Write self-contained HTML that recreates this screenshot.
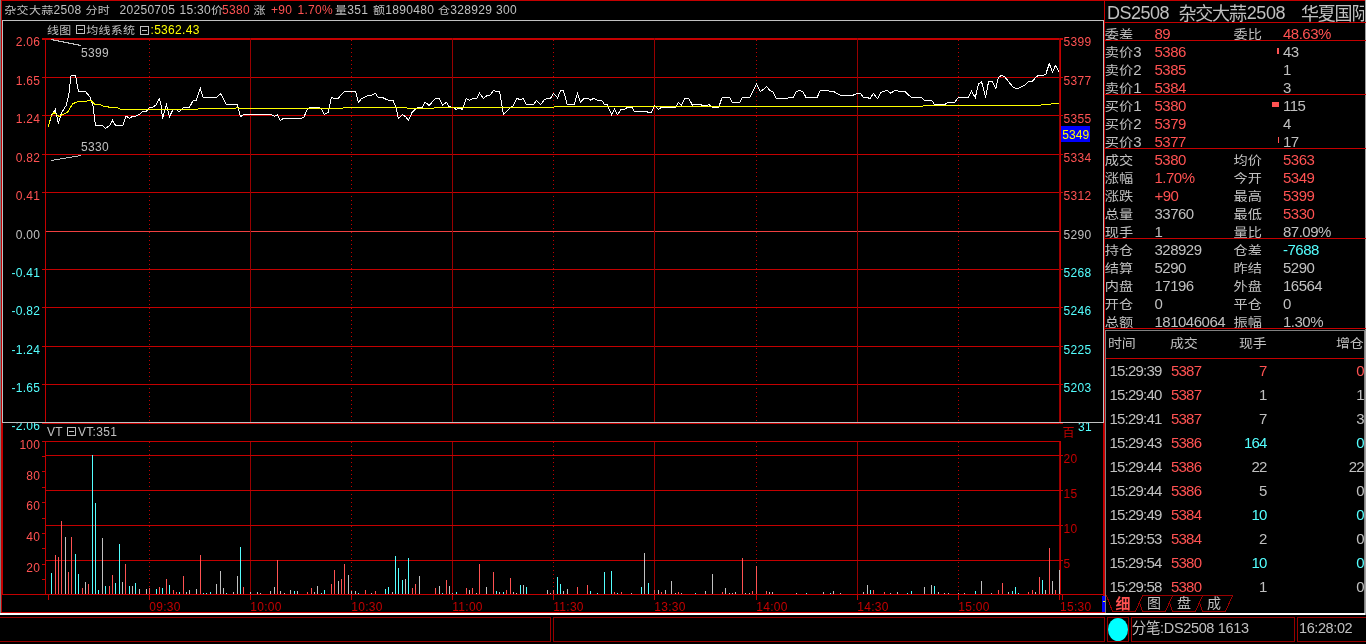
<!DOCTYPE html>
<html lang="zh-CN"><head><meta charset="utf-8"><title>杂交大蒜2508 分时</title>
<style>
html,body{margin:0;padding:0;background:#000;}
body{width:1366px;height:644px;overflow:hidden;position:relative;font-family:"Liberation Sans","Noto Sans CJK SC",sans-serif;color:#c0c0c0;}
#app{position:absolute;left:0;top:0;width:1366px;height:644px;overflow:hidden;background:#000;}
svg{position:absolute;left:0;top:0;}
.t{position:absolute;white-space:nowrap;line-height:1;}
.s12{font-size:12px;letter-spacing:0.3px;}
.r{color:#ff5252;}.c{color:#54ffff;}.g{color:#c0c0c0;}.y{color:#ffff00;}.d{color:#c40000;}
.k{font-size:14.2px;transform:scaleY(0.87);transform-origin:0 0;}
.p{font-size:15px;letter-spacing:-0.5px;}
.q{font-size:15px;letter-spacing:-0.8px;}
.h{font-size:14px;letter-spacing:-0.3px;transform:scaleY(0.87);transform-origin:0 0;}
.ra{text-align:right;}
.z{display:inline-block;transform:scaleY(0.88);transform-origin:0 78%;}
</style></head><body><div id="app">

<svg width="1366" height="644" viewBox="0 0 1366 644" shape-rendering="crispEdges">
<rect x="0" y="0" width="1" height="613" fill="#808080"/>
<rect x="1" y="0" width="1" height="613" fill="#c40000"/>
<rect x="1" y="0" width="1365" height="1" fill="#c40000"/>
<rect x="42" y="38" width="1021" height="2" fill="#c40000"/>
<rect x="42" y="77" width="1021" height="1" fill="#c40000"/>
<rect x="42" y="115" width="1021" height="1" fill="#c40000"/>
<rect x="42" y="154" width="1021" height="1" fill="#c40000"/>
<rect x="42" y="192" width="1021" height="1" fill="#c40000"/>
<rect x="46" y="231" width="1013" height="1" fill="#f04040"/>
<rect x="42" y="269" width="1021" height="1" fill="#c40000"/>
<rect x="42" y="307" width="1021" height="1" fill="#c40000"/>
<rect x="42" y="346" width="1021" height="1" fill="#c40000"/>
<rect x="42" y="384" width="1021" height="1" fill="#c40000"/>
<rect x="42" y="423" width="1021" height="1" fill="#c40000"/>
<rect x="45" y="38" width="1" height="386" fill="#c40000"/>
<rect x="1059" y="38" width="1" height="386" fill="#980000"/>
<rect x="1060" y="38" width="1" height="386" fill="#c40000"/>
<rect x="1059" y="441" width="1" height="154" fill="#980000"/>
<rect x="1060" y="441" width="1" height="154" fill="#c40000"/>
<line x1="149.5" y1="40" x2="149.5" y2="423" stroke="#c40000" stroke-width="1" stroke-dasharray="1 3"/>
<line x1="149.5" y1="442" x2="149.5" y2="594" stroke="#c40000" stroke-width="1" stroke-dasharray="1 3"/>
<rect x="149" y="594" width="1" height="6" fill="#c40000"/>
<rect x="250" y="38" width="1" height="385" fill="#980000"/>
<rect x="250" y="441" width="1" height="153" fill="#980000"/>
<rect x="250" y="594" width="1" height="6" fill="#c40000"/>
<line x1="351.5" y1="40" x2="351.5" y2="423" stroke="#c40000" stroke-width="1" stroke-dasharray="1 3"/>
<line x1="351.5" y1="442" x2="351.5" y2="594" stroke="#c40000" stroke-width="1" stroke-dasharray="1 3"/>
<rect x="351" y="594" width="1" height="6" fill="#c40000"/>
<rect x="452" y="38" width="1" height="385" fill="#980000"/>
<rect x="452" y="441" width="1" height="153" fill="#980000"/>
<rect x="452" y="594" width="1" height="6" fill="#c40000"/>
<line x1="553.5" y1="40" x2="553.5" y2="423" stroke="#c40000" stroke-width="1" stroke-dasharray="1 3"/>
<line x1="553.5" y1="442" x2="553.5" y2="594" stroke="#c40000" stroke-width="1" stroke-dasharray="1 3"/>
<rect x="553" y="594" width="1" height="6" fill="#c40000"/>
<rect x="654" y="38" width="1" height="385" fill="#980000"/>
<rect x="654" y="441" width="1" height="153" fill="#980000"/>
<rect x="654" y="594" width="1" height="6" fill="#c40000"/>
<line x1="756.5" y1="40" x2="756.5" y2="423" stroke="#c40000" stroke-width="1" stroke-dasharray="1 3"/>
<line x1="756.5" y1="442" x2="756.5" y2="594" stroke="#c40000" stroke-width="1" stroke-dasharray="1 3"/>
<rect x="756" y="594" width="1" height="6" fill="#c40000"/>
<rect x="857" y="38" width="1" height="385" fill="#980000"/>
<rect x="857" y="441" width="1" height="153" fill="#980000"/>
<rect x="857" y="594" width="1" height="6" fill="#c40000"/>
<line x1="958.5" y1="40" x2="958.5" y2="423" stroke="#c40000" stroke-width="1" stroke-dasharray="1 3"/>
<line x1="958.5" y1="442" x2="958.5" y2="594" stroke="#c40000" stroke-width="1" stroke-dasharray="1 3"/>
<rect x="958" y="594" width="1" height="6" fill="#c40000"/>
<rect x="2" y="423" width="1" height="172" fill="#c40000"/>
<rect x="45" y="441" width="1" height="154" fill="#c40000"/>
<rect x="2" y="594" width="1103" height="1" fill="#c40000"/>
<rect x="45" y="441" width="1016" height="1" fill="#c40000"/>
<rect x="45" y="455" width="1018" height="1" fill="#c40000"/>
<rect x="45" y="490" width="1018" height="1" fill="#c40000"/>
<rect x="45" y="525" width="1018" height="1" fill="#c40000"/>
<rect x="45" y="560" width="1018" height="1" fill="#c40000"/>
<rect x="42" y="594" width="3" height="1" fill="#c40000"/>
<rect x="42" y="579" width="3" height="1" fill="#c40000"/>
<rect x="42" y="564" width="3" height="1" fill="#c40000"/>
<rect x="42" y="548" width="3" height="1" fill="#c40000"/>
<rect x="42" y="533" width="3" height="1" fill="#c40000"/>
<rect x="42" y="518" width="3" height="1" fill="#c40000"/>
<rect x="42" y="502" width="3" height="1" fill="#c40000"/>
<rect x="42" y="487" width="3" height="1" fill="#c40000"/>
<rect x="42" y="471" width="3" height="1" fill="#c40000"/>
<rect x="42" y="456" width="3" height="1" fill="#c40000"/>
<rect x="42" y="441" width="3" height="1" fill="#c40000"/>
<rect x="48" y="594" width="1" height="6" fill="#c40000"/>
<rect x="1059" y="594" width="1" height="6" fill="#c40000"/>
<rect x="1062" y="594" width="1" height="6" fill="#c40000"/>
<rect x="2" y="20" width="1102" height="1" fill="#c0c0c0"/>
<rect x="2" y="422" width="1102" height="1" fill="#c0c0c0"/>
<rect x="2" y="20" width="1" height="403" fill="#c0c0c0"/>
<rect x="1103" y="20" width="1" height="403" fill="#c0c0c0"/>
<rect x="1365" y="0" width="1" height="615" fill="#a0a0a0"/>
<rect x="1104" y="0" width="1" height="613" fill="#c40000"/>
<rect x="1103" y="423" width="1" height="190" fill="#c40000"/>
<rect x="1" y="612" width="1104" height="1" fill="#c40000"/>
<rect x="0" y="613" width="1365" height="2" fill="#ffffff"/>
<rect x="1364" y="330" width="1" height="283" fill="#808080"/>
<rect x="-0.5" y="617.5" width="551" height="24" fill="none" stroke="#980000"/>
<rect x="553.5" y="617.5" width="551" height="24" fill="none" stroke="#980000"/>
<rect x="1107.5" y="617.5" width="21" height="24" fill="none" stroke="#980000"/>
<rect x="1131.5" y="617.5" width="163" height="24" fill="none" stroke="#980000"/>
<rect x="1297.5" y="617.5" width="69" height="24" fill="none" stroke="#980000"/>
<ellipse cx="1118" cy="629.5" rx="10" ry="11.5" fill="#00ffff" shape-rendering="auto"/>
<rect x="1102" y="596" width="3" height="16" fill="#0000ff"/><rect x="1103" y="601" width="2" height="1" fill="#ffff00"/>
<rect x="1105" y="22" width="261" height="1" fill="#c40000"/>
<rect x="1105" y="40" width="261" height="1" fill="#c40000"/>
<rect x="1105" y="94" width="261" height="1" fill="#c40000"/>
<rect x="1105" y="148" width="261" height="1" fill="#c40000"/>
<rect x="1105" y="238" width="261" height="1" fill="#c40000"/>
<rect x="1105" y="328" width="261" height="1" fill="#c40000"/>
<rect x="1105" y="330" width="261" height="1" fill="#808080"/>
<rect x="1105" y="330" width="1" height="283" fill="#808080"/>
<rect x="1106" y="358" width="258" height="1" fill="#c40000"/>
<rect x="1277" y="48" width="2" height="6" fill="#ff5252"/>
<rect x="1272" y="102" width="7" height="5" fill="#ff5252"/>
<rect x="1278" y="137" width="1" height="6" fill="#ff5252"/>
<rect x="1061" y="126" width="29" height="16" fill="#0000ff"/>
<line x1="51" y1="39.5" x2="81" y2="45.5" stroke="#c0c0c0" stroke-width="1"/>
<line x1="51" y1="160.5" x2="81" y2="155.5" stroke="#c0c0c0" stroke-width="1"/>
<polyline fill="none" stroke="#980000" stroke-width="1" points="1106.5,595.5 1112.5,611.5 1135.5,611.5 1142.5,595.5"/>
<polyline fill="none" stroke="#980000" stroke-width="1" points="1139.7,603 1142.5,611.5 1165.5,611.5 1172.5,595.5 1142.5,595.5"/>
<polyline fill="none" stroke="#980000" stroke-width="1" points="1169.7,603 1172.5,611.5 1195.5,611.5 1202.5,595.5 1172.5,595.5"/>
<polyline fill="none" stroke="#980000" stroke-width="1" points="1199.7,603 1202.5,611.5 1225.5,611.5 1232.5,595.5 1202.5,595.5"/>
<rect x="51" y="573" width="1" height="21" fill="#54ffff"/>
<rect x="55" y="555" width="1" height="39" fill="#ff5252"/>
<rect x="58" y="557" width="1" height="37" fill="#ff5252"/>
<rect x="61" y="521" width="1" height="73" fill="#ff5252"/>
<rect x="65" y="537" width="1" height="57" fill="#c0c0c0"/>
<rect x="68" y="572" width="1" height="22" fill="#ff5252"/>
<rect x="71" y="537" width="1" height="57" fill="#ff5252"/>
<rect x="75" y="554" width="1" height="40" fill="#54ffff"/>
<rect x="78" y="574" width="1" height="20" fill="#54ffff"/>
<rect x="82" y="588" width="1" height="6" fill="#ff5252"/>
<rect x="85" y="582" width="1" height="12" fill="#c0c0c0"/>
<rect x="88" y="584" width="1" height="10" fill="#ff5252"/>
<rect x="92" y="455" width="1" height="139" fill="#54ffff"/>
<rect x="95" y="503" width="1" height="91" fill="#54ffff"/>
<rect x="98" y="590" width="1" height="4" fill="#54ffff"/>
<rect x="102" y="538" width="1" height="56" fill="#c0c0c0"/>
<rect x="105" y="586" width="1" height="8" fill="#54ffff"/>
<rect x="109" y="586" width="1" height="8" fill="#ff5252"/>
<rect x="112" y="575" width="1" height="19" fill="#ff5252"/>
<rect x="115" y="583" width="1" height="11" fill="#54ffff"/>
<rect x="119" y="544" width="1" height="50" fill="#54ffff"/>
<rect x="122" y="582" width="1" height="12" fill="#c0c0c0"/>
<rect x="125" y="564" width="1" height="30" fill="#ff5252"/>
<rect x="129" y="586" width="1" height="8" fill="#54ffff"/>
<rect x="132" y="586" width="1" height="8" fill="#c0c0c0"/>
<rect x="135" y="583" width="1" height="11" fill="#54ffff"/>
<rect x="139" y="589" width="1" height="5" fill="#c0c0c0"/>
<rect x="146" y="589" width="1" height="5" fill="#c0c0c0"/>
<rect x="149" y="588" width="1" height="6" fill="#ff5252"/>
<rect x="156" y="589" width="1" height="5" fill="#54ffff"/>
<rect x="159" y="587" width="1" height="7" fill="#ff5252"/>
<rect x="162" y="588" width="1" height="6" fill="#54ffff"/>
<rect x="166" y="579" width="1" height="15" fill="#ff5252"/>
<rect x="169" y="585" width="1" height="9" fill="#54ffff"/>
<rect x="173" y="590" width="1" height="4" fill="#ff5252"/>
<rect x="176" y="592" width="1" height="2" fill="#ff5252"/>
<rect x="179" y="592" width="1" height="2" fill="#54ffff"/>
<rect x="183" y="576" width="1" height="18" fill="#ff5252"/>
<rect x="186" y="592" width="1" height="2" fill="#c0c0c0"/>
<rect x="189" y="590" width="1" height="4" fill="#c0c0c0"/>
<rect x="196" y="589" width="1" height="5" fill="#c0c0c0"/>
<rect x="200" y="555" width="1" height="39" fill="#ff5252"/>
<rect x="203" y="593" width="1" height="1" fill="#54ffff"/>
<rect x="206" y="593" width="1" height="1" fill="#54ffff"/>
<rect x="210" y="592" width="1" height="2" fill="#54ffff"/>
<rect x="216" y="584" width="1" height="10" fill="#c0c0c0"/>
<rect x="220" y="571" width="1" height="23" fill="#c0c0c0"/>
<rect x="223" y="588" width="1" height="6" fill="#c0c0c0"/>
<rect x="226" y="593" width="1" height="1" fill="#54ffff"/>
<rect x="233" y="592" width="1" height="2" fill="#c0c0c0"/>
<rect x="237" y="576" width="1" height="18" fill="#c0c0c0"/>
<rect x="240" y="547" width="1" height="47" fill="#54ffff"/>
<rect x="243" y="587" width="1" height="7" fill="#ff5252"/>
<rect x="250" y="592" width="1" height="2" fill="#c0c0c0"/>
<rect x="257" y="592" width="1" height="2" fill="#c0c0c0"/>
<rect x="260" y="593" width="1" height="1" fill="#c0c0c0"/>
<rect x="270" y="591" width="1" height="3" fill="#c0c0c0"/>
<rect x="274" y="587" width="1" height="7" fill="#c0c0c0"/>
<rect x="277" y="560" width="1" height="34" fill="#ff5252"/>
<rect x="280" y="591" width="1" height="3" fill="#c0c0c0"/>
<rect x="284" y="593" width="1" height="1" fill="#c0c0c0"/>
<rect x="290" y="590" width="1" height="4" fill="#c0c0c0"/>
<rect x="294" y="591" width="1" height="3" fill="#54ffff"/>
<rect x="297" y="591" width="1" height="3" fill="#c0c0c0"/>
<rect x="307" y="592" width="1" height="2" fill="#ff5252"/>
<rect x="311" y="588" width="1" height="6" fill="#ff5252"/>
<rect x="314" y="592" width="1" height="2" fill="#c0c0c0"/>
<rect x="317" y="586" width="1" height="8" fill="#c0c0c0"/>
<rect x="321" y="593" width="1" height="1" fill="#54ffff"/>
<rect x="324" y="590" width="1" height="4" fill="#54ffff"/>
<rect x="331" y="584" width="1" height="10" fill="#ff5252"/>
<rect x="334" y="570" width="1" height="24" fill="#ff5252"/>
<rect x="338" y="581" width="1" height="13" fill="#c0c0c0"/>
<rect x="341" y="579" width="1" height="15" fill="#ff5252"/>
<rect x="344" y="564" width="1" height="30" fill="#ff5252"/>
<rect x="348" y="575" width="1" height="19" fill="#c0c0c0"/>
<rect x="351" y="591" width="1" height="3" fill="#c0c0c0"/>
<rect x="355" y="591" width="1" height="3" fill="#c0c0c0"/>
<rect x="358" y="593" width="1" height="1" fill="#54ffff"/>
<rect x="365" y="590" width="1" height="4" fill="#ff5252"/>
<rect x="371" y="593" width="1" height="1" fill="#c0c0c0"/>
<rect x="375" y="591" width="1" height="3" fill="#ff5252"/>
<rect x="385" y="589" width="1" height="5" fill="#54ffff"/>
<rect x="388" y="587" width="1" height="7" fill="#54ffff"/>
<rect x="392" y="592" width="1" height="2" fill="#c0c0c0"/>
<rect x="395" y="556" width="1" height="38" fill="#54ffff"/>
<rect x="398" y="568" width="1" height="26" fill="#54ffff"/>
<rect x="402" y="580" width="1" height="14" fill="#54ffff"/>
<rect x="405" y="579" width="1" height="15" fill="#c0c0c0"/>
<rect x="408" y="558" width="1" height="36" fill="#54ffff"/>
<rect x="412" y="588" width="1" height="6" fill="#ff5252"/>
<rect x="415" y="584" width="1" height="10" fill="#ff5252"/>
<rect x="419" y="576" width="1" height="18" fill="#c0c0c0"/>
<rect x="435" y="588" width="1" height="6" fill="#ff5252"/>
<rect x="439" y="586" width="1" height="8" fill="#c0c0c0"/>
<rect x="442" y="593" width="1" height="1" fill="#54ffff"/>
<rect x="446" y="580" width="1" height="14" fill="#ff5252"/>
<rect x="449" y="586" width="1" height="8" fill="#c0c0c0"/>
<rect x="452" y="593" width="1" height="1" fill="#c0c0c0"/>
<rect x="456" y="592" width="1" height="2" fill="#54ffff"/>
<rect x="466" y="588" width="1" height="6" fill="#ff5252"/>
<rect x="469" y="590" width="1" height="4" fill="#c0c0c0"/>
<rect x="472" y="588" width="1" height="6" fill="#ff5252"/>
<rect x="476" y="593" width="1" height="1" fill="#c0c0c0"/>
<rect x="479" y="564" width="1" height="30" fill="#ff5252"/>
<rect x="486" y="587" width="1" height="7" fill="#c0c0c0"/>
<rect x="493" y="572" width="1" height="22" fill="#ff5252"/>
<rect x="496" y="591" width="1" height="3" fill="#54ffff"/>
<rect x="499" y="592" width="1" height="2" fill="#c0c0c0"/>
<rect x="503" y="592" width="1" height="2" fill="#54ffff"/>
<rect x="506" y="590" width="1" height="4" fill="#ff5252"/>
<rect x="510" y="578" width="1" height="16" fill="#ff5252"/>
<rect x="513" y="592" width="1" height="2" fill="#c0c0c0"/>
<rect x="516" y="593" width="1" height="1" fill="#c0c0c0"/>
<rect x="520" y="585" width="1" height="9" fill="#54ffff"/>
<rect x="523" y="585" width="1" height="9" fill="#c0c0c0"/>
<rect x="526" y="587" width="1" height="7" fill="#54ffff"/>
<rect x="547" y="590" width="1" height="4" fill="#c0c0c0"/>
<rect x="550" y="593" width="1" height="1" fill="#c0c0c0"/>
<rect x="553" y="590" width="1" height="4" fill="#ff5252"/>
<rect x="557" y="577" width="1" height="17" fill="#54ffff"/>
<rect x="560" y="584" width="1" height="10" fill="#54ffff"/>
<rect x="563" y="591" width="1" height="3" fill="#c0c0c0"/>
<rect x="567" y="589" width="1" height="5" fill="#c0c0c0"/>
<rect x="577" y="587" width="1" height="7" fill="#ff5252"/>
<rect x="587" y="585" width="1" height="9" fill="#ff5252"/>
<rect x="590" y="591" width="1" height="3" fill="#54ffff"/>
<rect x="597" y="593" width="1" height="1" fill="#54ffff"/>
<rect x="604" y="572" width="1" height="22" fill="#54ffff"/>
<rect x="611" y="571" width="1" height="23" fill="#54ffff"/>
<rect x="614" y="592" width="1" height="2" fill="#ff5252"/>
<rect x="617" y="593" width="1" height="1" fill="#54ffff"/>
<rect x="621" y="592" width="1" height="2" fill="#ff5252"/>
<rect x="631" y="593" width="1" height="1" fill="#c0c0c0"/>
<rect x="641" y="587" width="1" height="7" fill="#54ffff"/>
<rect x="644" y="553" width="1" height="41" fill="#c0c0c0"/>
<rect x="648" y="583" width="1" height="11" fill="#54ffff"/>
<rect x="654" y="590" width="1" height="4" fill="#ff5252"/>
<rect x="658" y="590" width="1" height="4" fill="#c0c0c0"/>
<rect x="661" y="592" width="1" height="2" fill="#ff5252"/>
<rect x="665" y="590" width="1" height="4" fill="#c0c0c0"/>
<rect x="671" y="581" width="1" height="13" fill="#c0c0c0"/>
<rect x="675" y="593" width="1" height="1" fill="#c0c0c0"/>
<rect x="678" y="592" width="1" height="2" fill="#ff5252"/>
<rect x="681" y="593" width="1" height="1" fill="#c0c0c0"/>
<rect x="695" y="593" width="1" height="1" fill="#54ffff"/>
<rect x="705" y="591" width="1" height="3" fill="#c0c0c0"/>
<rect x="712" y="574" width="1" height="20" fill="#c0c0c0"/>
<rect x="722" y="592" width="1" height="2" fill="#ff5252"/>
<rect x="725" y="588" width="1" height="6" fill="#c0c0c0"/>
<rect x="729" y="593" width="1" height="1" fill="#c0c0c0"/>
<rect x="732" y="593" width="1" height="1" fill="#c0c0c0"/>
<rect x="735" y="592" width="1" height="2" fill="#c0c0c0"/>
<rect x="742" y="558" width="1" height="36" fill="#ff5252"/>
<rect x="745" y="593" width="1" height="1" fill="#c0c0c0"/>
<rect x="749" y="593" width="1" height="1" fill="#c0c0c0"/>
<rect x="752" y="591" width="1" height="3" fill="#ff5252"/>
<rect x="756" y="566" width="1" height="28" fill="#ff5252"/>
<rect x="766" y="591" width="1" height="3" fill="#ff5252"/>
<rect x="769" y="592" width="1" height="2" fill="#c0c0c0"/>
<rect x="772" y="592" width="1" height="2" fill="#c0c0c0"/>
<rect x="796" y="593" width="1" height="1" fill="#c0c0c0"/>
<rect x="806" y="593" width="1" height="1" fill="#54ffff"/>
<rect x="823" y="592" width="1" height="2" fill="#c0c0c0"/>
<rect x="830" y="593" width="1" height="1" fill="#54ffff"/>
<rect x="833" y="591" width="1" height="3" fill="#c0c0c0"/>
<rect x="840" y="593" width="1" height="1" fill="#c0c0c0"/>
<rect x="863" y="592" width="1" height="2" fill="#c0c0c0"/>
<rect x="867" y="585" width="1" height="9" fill="#c0c0c0"/>
<rect x="870" y="590" width="1" height="4" fill="#54ffff"/>
<rect x="873" y="590" width="1" height="4" fill="#ff5252"/>
<rect x="884" y="592" width="1" height="2" fill="#ff5252"/>
<rect x="890" y="593" width="1" height="1" fill="#c0c0c0"/>
<rect x="897" y="592" width="1" height="2" fill="#c0c0c0"/>
<rect x="907" y="593" width="1" height="1" fill="#54ffff"/>
<rect x="911" y="591" width="1" height="3" fill="#54ffff"/>
<rect x="924" y="587" width="1" height="7" fill="#c0c0c0"/>
<rect x="931" y="585" width="1" height="9" fill="#c0c0c0"/>
<rect x="934" y="586" width="1" height="8" fill="#54ffff"/>
<rect x="938" y="592" width="1" height="2" fill="#c0c0c0"/>
<rect x="944" y="593" width="1" height="1" fill="#c0c0c0"/>
<rect x="948" y="593" width="1" height="1" fill="#c0c0c0"/>
<rect x="958" y="593" width="1" height="1" fill="#c0c0c0"/>
<rect x="964" y="593" width="1" height="1" fill="#c0c0c0"/>
<rect x="975" y="591" width="1" height="3" fill="#54ffff"/>
<rect x="981" y="581" width="1" height="13" fill="#c0c0c0"/>
<rect x="991" y="593" width="1" height="1" fill="#c0c0c0"/>
<rect x="998" y="590" width="1" height="4" fill="#ff5252"/>
<rect x="1002" y="583" width="1" height="11" fill="#ff5252"/>
<rect x="1008" y="592" width="1" height="2" fill="#c0c0c0"/>
<rect x="1012" y="591" width="1" height="3" fill="#54ffff"/>
<rect x="1015" y="587" width="1" height="7" fill="#54ffff"/>
<rect x="1018" y="593" width="1" height="1" fill="#54ffff"/>
<rect x="1028" y="592" width="1" height="2" fill="#ff5252"/>
<rect x="1032" y="590" width="1" height="4" fill="#ff5252"/>
<rect x="1035" y="592" width="1" height="2" fill="#c0c0c0"/>
<rect x="1039" y="577" width="1" height="17" fill="#ff5252"/>
<rect x="1042" y="580" width="1" height="14" fill="#54ffff"/>
<rect x="1045" y="590" width="1" height="4" fill="#c0c0c0"/>
<rect x="1049" y="548" width="1" height="46" fill="#ff5252"/>
<rect x="1052" y="581" width="1" height="13" fill="#c0c0c0"/>
<rect x="1055" y="590" width="1" height="4" fill="#ff5252"/>
<rect x="1059" y="570" width="1" height="24" fill="#c0c0c0"/>
<polyline fill="none" stroke="#ffffff" stroke-width="1" points="48.1,127.2 51.5,115.4 55.3,109.5 58.4,123.4 61.2,113.5 66.2,105.4 68.6,96.1 71.1,75.5 75.5,75.5 78.4,91.5 85.4,91.5 89.8,96.7 92.9,104.8 95.4,125.6 102.2,125.6 105.6,128.4 109.7,125.6 112.6,120.3 115.7,125.6 122.8,125.6 125.9,116.0 129.6,118.5 132.1,116.6 135.8,116.0 139.6,114.1 142.7,111.6 146.4,111.3 149.3,107.9 152.7,107.3 156.1,104.8 159.2,98.6 160.7,102.9 162.6,118.5 166.3,104.5 169.5,116.6 172.9,109.8 176.3,109.8 179.4,111.6 183.1,107.9 189.4,107.5 192.8,101.0 196.2,100.2 200.3,88.4 203.3,97.6 215.0,97.6 216.9,97.3 220.6,93.6 226.2,104.4 237.4,104.4 240.5,116.6 243.6,114.5 271.0,114.5 274.5,116.2 277.2,114.7 280.3,120.3 283.4,118.5 301.5,118.5 304.0,116.9 307.7,108.5 310.6,107.3 318.3,107.3 321.4,109.1 324.5,114.5 328.3,112.2 331.4,97.3 333.2,98.3 338.2,98.3 344.4,91.3 355.6,91.3 358.4,102.5 361.2,98.8 368.1,95.4 371.8,95.1 375.3,93.2 378.0,97.3 382.4,97.3 385.0,98.8 388.7,100.4 393.1,100.7 395.6,106.0 398.4,118.5 402.4,114.4 405.5,116.6 408.6,120.3 411.8,112.9 415.5,109.1 418.6,107.5 422.3,107.3 425.1,102.3 429.2,105.4 435.4,98.3 439.4,98.3 442.5,105.0 446.6,102.3 448.7,106.3 452.8,107.5 456.2,109.4 459.3,107.9 462.4,109.4 466.1,98.6 469.6,100.1 472.7,98.6 476.8,98.3 479.6,93.3 483.6,98.6 487.0,95.4 490.2,95.1 493.5,90.5 496.4,91.3 499.5,91.3 503.5,114.7 509.5,108.3 512.9,106.0 516.9,98.3 520.0,99.6 523.4,98.6 526.3,104.5 533.7,104.5 536.6,100.4 540.6,104.8 544.3,99.8 546.8,98.6 550.5,98.3 553.3,93.6 555.0,94.8 557.5,97.9 560.6,90.7 563.5,90.7 567.2,104.4 574.3,104.4 577.4,93.6 580.5,102.3 584.2,98.3 587.4,98.3 590.8,100.1 593.8,98.3 597.9,100.4 601.7,100.4 604.5,104.4 607.3,104.8 611.6,114.5 614.5,109.4 617.5,114.5 621.2,109.4 624.7,109.1 627.8,107.3 631.9,107.3 634.4,111.6 647.1,111.6 647.7,112.5 651.4,112.5 654.3,105.7 658.3,109.4 661.4,107.5 675.7,107.3 678.5,102.3 681.3,105.4 685.1,98.3 688.8,98.3 692.5,105.4 694.4,104.4 700.6,104.4 701.9,105.2 707.5,105.2 708.7,104.4 712.1,107.3 718.7,107.3 721.8,98.3 723.0,97.6 725.0,97.6 729.7,97.6 732.2,102.3 739.7,102.3 742.4,97.6 749.9,97.6 756.5,84.2 760.1,91.5 763.0,89.8 766.7,86.4 769.8,90.5 772.9,91.7 776.3,98.3 787.2,98.3 788.7,97.6 793.2,97.6 796.2,91.7 799.4,90.5 802.8,91.5 806.1,97.6 817.1,97.6 820.2,90.7 828.3,90.7 829.8,91.5 833.5,91.5 840.5,95.2 853.2,95.2 856.7,93.6 860.7,93.6 863.4,97.6 867.5,97.6 870.0,98.6 873.3,93.3 877.5,98.6 880.6,93.0 883.7,91.1 887.4,90.7 890.8,93.3 893.6,91.1 895.0,90.7 898.7,91.1 905.0,91.5 911.4,97.6 921.4,97.6 924.6,100.4 931.7,100.4 934.6,104.5 944.8,104.5 947.9,102.3 954.7,102.3 958.2,97.6 968.4,97.6 971.5,91.3 975.3,97.6 978.4,84.2 981.5,81.4 985.6,97.6 988.6,81.4 992.1,81.4 995.8,88.6 998.3,77.4 1001.8,75.2 1005.1,77.2 1013.2,87.4 1017.6,88.6 1024.4,85.5 1028.8,81.4 1032.5,81.1 1036.3,76.8 1038.7,75.3 1045.6,74.9 1049.3,63.5 1052.4,72.2 1055.5,65.6 1059.0,71.8"/>
<polyline fill="none" stroke="#ffff00" stroke-width="1" points="48.1,127.2 50.0,119.7 51.8,115.4 53.7,112.5 56.8,114.7 59.3,116.6 62.4,114.5 67.4,112.5 69.9,108.5 72.6,103.9 77.4,101.7 86.1,101.3 89.2,100.1 91.3,100.8 94.8,104.4 99.8,104.5 102.5,106.0 107.8,106.4 109.1,107.5 117.8,107.8 121.2,109.4 197.5,109.4 198.7,108.5 215.0,108.5 234.9,108.5 236.8,107.5 238.6,108.5 342.6,108.5 343.8,107.5 385.0,107.5 406.8,107.5 407.4,108.5 433.5,108.5 434.5,107.5 553.6,107.5 555.0,106.4 555.0,106.4 725.0,106.4 725.0,106.4 895.0,106.4 922.4,106.4 923.4,105.4 1040.6,105.4 1041.6,104.4 1050.6,104.4 1051.6,103.3 1059.0,103.3"/>
</svg>
<div class="t s12" style="left:4.3px;top:4px;"><span class="z">杂交大蒜</span>2508</div>
<div class="t s12" style="left:85.5px;top:4px;"><span class="z">分时</span></div>
<div class="t s12" style="left:119.5px;top:4px;">20250705</div>
<div class="t s12" style="left:179.5px;top:4px;">15:30<span class="z">价</span></div>
<div class="t s12 r" style="left:222px;top:4px;">5380</div>
<div class="t s12" style="left:253.5px;top:4px;"><span class="z">涨</span></div>
<div class="t s12 r" style="left:271px;top:4px;">+90</div>
<div class="t s12 r" style="left:297.5px;top:4px;">1.70%</div>
<div class="t s12" style="left:335px;top:4px;"><span class="z">量</span>351</div>
<div class="t s12" style="left:373px;top:4px;"><span class="z">额</span>1890480</div>
<div class="t s12" style="left:438px;top:4px;"><span class="z">仓</span>328929</div>
<div class="t s12" style="left:496px;top:4px;">300</div>
<div class="t s12" style="left:47px;top:24px;"><span class="z">线图</span></div>
<div class="t s12" style="left:75px;top:24px;"><span style="display:inline-block;width:7px;height:7px;border:1px solid #c0c0c0;position:relative;top:-1px;margin-left:1px;margin-right:0px;vertical-align:-1px"><span style="position:absolute;left:1px;top:3px;width:5px;height:1px;background:#c0c0c0"></span></span><span style="letter-spacing:0.25px;margin-left:1.2px"><span class="z">均线系统</span></span></div>
<div class="t s12" style="left:139.5px;top:24px;"><span style="display:inline-block;width:7px;height:7px;border:1px solid #c0c0c0;position:relative;margin-right:1px;vertical-align:-1px"><span style="position:absolute;left:1px;top:3px;width:5px;height:1px;background:#c0c0c0"></span></span><span class="y" style="margin-left:1px">:5362.43</span></div>
<div class="t ra s12 r" style="right:1325.7px;top:36px;">2.06</div>
<div class="t ra s12 r" style="right:1325.7px;top:75px;">1.65</div>
<div class="t ra s12 r" style="right:1325.7px;top:113px;">1.24</div>
<div class="t ra s12 r" style="right:1325.7px;top:152px;">0.82</div>
<div class="t ra s12 r" style="right:1325.7px;top:190px;">0.41</div>
<div class="t ra s12 g" style="right:1325.7px;top:229px;">0.00</div>
<div class="t ra s12 c" style="right:1325.7px;top:267px;">-0.41</div>
<div class="t ra s12 c" style="right:1325.7px;top:305px;">-0.82</div>
<div class="t ra s12 c" style="right:1325.7px;top:344px;">-1.24</div>
<div class="t ra s12 c" style="right:1325.7px;top:382px;">-1.65</div>
<div class="t s12 c ra" style="right:1325.7px;top:423px;height:10px;overflow:hidden"><span style="position:relative;top:-3px">-2.06</span></div>
<div class="t s12 r" style="left:1063.5px;top:36px;">5399</div>
<div class="t s12 r" style="left:1063.5px;top:75px;">5377</div>
<div class="t s12 r" style="left:1063.5px;top:113px;">5355</div>
<div class="t s12 r" style="left:1063.5px;top:152px;">5334</div>
<div class="t s12 r" style="left:1063.5px;top:190px;">5312</div>
<div class="t s12 g" style="left:1063.5px;top:229px;">5290</div>
<div class="t s12 c" style="left:1063.5px;top:267px;">5268</div>
<div class="t s12 c" style="left:1063.5px;top:305px;">5246</div>
<div class="t s12 c" style="left:1063.5px;top:344px;">5225</div>
<div class="t s12 c" style="left:1063.5px;top:382px;">5203</div>
<div class="t s12 y" style="left:1062.3px;top:129px;letter-spacing:0.1px">5349</div>
<div class="t s12" style="left:81px;top:47px;">5399</div>
<div class="t s12" style="left:81px;top:141px;">5330</div>
<div class="t s12" style="left:47px;top:426px;">VT</div>
<div class="t s12" style="left:66px;top:426px;"><span style="display:inline-block;width:7px;height:7px;border:1px solid #c0c0c0;position:relative;top:-1px;margin-left:1px;margin-right:2px;vertical-align:-1px"><span style="position:absolute;left:1px;top:3px;width:5px;height:1px;background:#c0c0c0"></span></span>VT:351</div>
<div class="t ra s12 r" style="right:1325.7px;top:438.79999999999995px;">100</div>
<div class="t ra s12 r" style="right:1325.7px;top:469.49999999999994px;">80</div>
<div class="t ra s12 r" style="right:1325.7px;top:500.19999999999993px;">60</div>
<div class="t ra s12 r" style="right:1325.7px;top:530.9px;">40</div>
<div class="t ra s12 r" style="right:1325.7px;top:561.5999999999999px;">20</div>
<div class="t s12 d" style="left:1063.5px;top:453px;">20</div>
<div class="t s12 d" style="left:1063.5px;top:488px;">15</div>
<div class="t s12 d" style="left:1063.5px;top:523px;">10</div>
<div class="t s12 d" style="left:1063.5px;top:558px;">5</div>
<div class="t s12 d" style="left:1062.5px;top:427px;">百</div>
<div class="t s12 c" style="left:1078px;top:423px;height:10px;overflow:hidden"><span style="position:relative;top:-2px">31</span></div>
<div class="t s12 d" style="left:149.2px;top:601px;">09:30</div>
<div class="t s12 d" style="left:250.2px;top:601px;">10:00</div>
<div class="t s12 d" style="left:351.2px;top:601px;">10:30</div>
<div class="t s12 d" style="left:452.2px;top:601px;">11:00</div>
<div class="t s12 d" style="left:553.2px;top:601px;">11:30</div>
<div class="t s12 d" style="left:654.2px;top:601px;">13:30</div>
<div class="t s12 d" style="left:756.2px;top:601px;">14:00</div>
<div class="t s12 d" style="left:857.2px;top:601px;">14:30</div>
<div class="t s12 d" style="left:958.2px;top:601px;">15:00</div>
<div class="t s12 d" style="left:1060px;top:601px;">15:30</div>
<div class="t g" style="left:1107px;top:4px;font-size:18px;letter-spacing:-0.5px">DS2508</div>
<div class="t g" style="left:1178.5px;top:4px;font-size:18px"><span style="letter-spacing:-1.2px;position:relative;top:1px">杂交大蒜</span><span style="letter-spacing:-0.4px;margin-left:1px">2508</span></div>
<div class="t g" style="left:1301px;top:5px;font-size:18px;letter-spacing:-1.2px;width:63px;overflow:hidden">华夏国际</div>
<div class="t k g" style="left:1104.7px;top:28.6px;">委差</div>
<div class="t p r" style="left:1154.5px;top:26px;">89</div>
<div class="t k g" style="left:1233.5px;top:28.6px;">委比</div>
<div class="t p r" style="left:1283px;top:26px;">48.63%</div>
<div class="t p g" style="left:1133.2px;top:44px;">3</div>
<div class="t k g" style="left:1104.7px;top:46.6px;">卖价</div>
<div class="t p r" style="left:1154.5px;top:44px;">5386</div>
<div class="t p g" style="left:1283px;top:44px;">43</div>
<div class="t p g" style="left:1133.2px;top:62px;">2</div>
<div class="t k g" style="left:1104.7px;top:64.6px;">卖价</div>
<div class="t p r" style="left:1154.5px;top:62px;">5385</div>
<div class="t p g" style="left:1283px;top:62px;">1</div>
<div class="t p g" style="left:1133.2px;top:80px;">1</div>
<div class="t k g" style="left:1104.7px;top:82.6px;">卖价</div>
<div class="t p r" style="left:1154.5px;top:80px;">5384</div>
<div class="t p g" style="left:1283px;top:80px;">3</div>
<div class="t p g" style="left:1133.2px;top:98px;">1</div>
<div class="t k g" style="left:1104.7px;top:100.6px;">买价</div>
<div class="t p r" style="left:1154.5px;top:98px;">5380</div>
<div class="t p g" style="left:1283px;top:98px;">115</div>
<div class="t p g" style="left:1133.2px;top:116px;">2</div>
<div class="t k g" style="left:1104.7px;top:118.6px;">买价</div>
<div class="t p r" style="left:1154.5px;top:116px;">5379</div>
<div class="t p g" style="left:1283px;top:116px;">4</div>
<div class="t p g" style="left:1133.2px;top:134px;">3</div>
<div class="t k g" style="left:1104.7px;top:136.6px;">买价</div>
<div class="t p r" style="left:1154.5px;top:134px;">5377</div>
<div class="t p g" style="left:1283px;top:134px;">17</div>
<div class="t k g" style="left:1104.7px;top:154.6px;">成交</div>
<div class="t p r" style="left:1154.5px;top:152px;">5380</div>
<div class="t k g" style="left:1233.5px;top:154.6px;">均价</div>
<div class="t p r" style="left:1283px;top:152px;">5363</div>
<div class="t k g" style="left:1104.7px;top:172.6px;">涨幅</div>
<div class="t p r" style="left:1154.5px;top:170px;">1.70%</div>
<div class="t k g" style="left:1233.5px;top:172.6px;">今开</div>
<div class="t p r" style="left:1283px;top:170px;">5349</div>
<div class="t k g" style="left:1104.7px;top:190.6px;">涨跌</div>
<div class="t p r" style="left:1154.5px;top:188px;">+90</div>
<div class="t k g" style="left:1233.5px;top:190.6px;">最高</div>
<div class="t p r" style="left:1283px;top:188px;">5399</div>
<div class="t k g" style="left:1104.7px;top:208.6px;">总量</div>
<div class="t p g" style="left:1154.5px;top:206px;">33760</div>
<div class="t k g" style="left:1233.5px;top:208.6px;">最低</div>
<div class="t p r" style="left:1283px;top:206px;">5330</div>
<div class="t k g" style="left:1104.7px;top:226.6px;">现手</div>
<div class="t p g" style="left:1154.5px;top:224px;">1</div>
<div class="t k g" style="left:1233.5px;top:226.6px;">量比</div>
<div class="t p g" style="left:1283px;top:224px;">87.09%</div>
<div class="t k g" style="left:1104.7px;top:244.6px;">持仓</div>
<div class="t p g" style="left:1154.5px;top:242px;">328929</div>
<div class="t k g" style="left:1233.5px;top:244.6px;">仓差</div>
<div class="t p c" style="left:1283px;top:242px;">-7688</div>
<div class="t k g" style="left:1104.7px;top:262.6px;">结算</div>
<div class="t p g" style="left:1154.5px;top:260px;">5290</div>
<div class="t k g" style="left:1233.5px;top:262.6px;">昨结</div>
<div class="t p g" style="left:1283px;top:260px;">5290</div>
<div class="t k g" style="left:1104.7px;top:280.6px;">内盘</div>
<div class="t p g" style="left:1154.5px;top:278px;">17196</div>
<div class="t k g" style="left:1233.5px;top:280.6px;">外盘</div>
<div class="t p g" style="left:1283px;top:278px;">16564</div>
<div class="t k g" style="left:1104.7px;top:298.6px;">开仓</div>
<div class="t p g" style="left:1154.5px;top:296px;">0</div>
<div class="t k g" style="left:1233.5px;top:298.6px;">平仓</div>
<div class="t p g" style="left:1283px;top:296px;">0</div>
<div class="t k g" style="left:1104.7px;top:316.6px;">总额</div>
<div class="t p g" style="left:1154.5px;top:314px;">181046064</div>
<div class="t k g" style="left:1233.5px;top:316.6px;">振幅</div>
<div class="t p g" style="left:1283px;top:314px;">1.30%</div>
<div class="t h g" style="left:1108px;top:338px;">时间</div>
<div class="t h g" style="left:1170px;top:338px;">成交</div>
<div class="t ra h g" style="right:99.5px;top:338px;">现手</div>
<div class="t h g" style="left:1336px;top:338px;">增仓</div>
<div class="t q g" style="left:1109.5px;top:363.0px;">15:29:39</div>
<div class="t q r" style="left:1171px;top:363.0px;">5387</div>
<div class="t ra q r" style="right:99.40000000000009px;top:363.0px;">7</div>
<div class="t ra q r" style="right:2.2000000000000455px;top:363.0px;">0</div>
<div class="t q g" style="left:1109.5px;top:387.0px;">15:29:40</div>
<div class="t q r" style="left:1171px;top:387.0px;">5387</div>
<div class="t ra q g" style="right:99.40000000000009px;top:387.0px;">1</div>
<div class="t ra q g" style="right:2.2000000000000455px;top:387.0px;">1</div>
<div class="t q g" style="left:1109.5px;top:411.0px;">15:29:41</div>
<div class="t q r" style="left:1171px;top:411.0px;">5387</div>
<div class="t ra q g" style="right:99.40000000000009px;top:411.0px;">7</div>
<div class="t ra q g" style="right:2.2000000000000455px;top:411.0px;">3</div>
<div class="t q g" style="left:1109.5px;top:435.0px;">15:29:43</div>
<div class="t q r" style="left:1171px;top:435.0px;">5386</div>
<div class="t ra q c" style="right:99.40000000000009px;top:435.0px;">164</div>
<div class="t ra q c" style="right:2.2000000000000455px;top:435.0px;">0</div>
<div class="t q g" style="left:1109.5px;top:459.0px;">15:29:44</div>
<div class="t q r" style="left:1171px;top:459.0px;">5386</div>
<div class="t ra q g" style="right:99.40000000000009px;top:459.0px;">22</div>
<div class="t ra q g" style="right:2.2000000000000455px;top:459.0px;">22</div>
<div class="t q g" style="left:1109.5px;top:483.0px;">15:29:44</div>
<div class="t q r" style="left:1171px;top:483.0px;">5386</div>
<div class="t ra q g" style="right:99.40000000000009px;top:483.0px;">5</div>
<div class="t ra q g" style="right:2.2000000000000455px;top:483.0px;">0</div>
<div class="t q g" style="left:1109.5px;top:507.0px;">15:29:49</div>
<div class="t q r" style="left:1171px;top:507.0px;">5384</div>
<div class="t ra q c" style="right:99.40000000000009px;top:507.0px;">10</div>
<div class="t ra q c" style="right:2.2000000000000455px;top:507.0px;">0</div>
<div class="t q g" style="left:1109.5px;top:531.0px;">15:29:53</div>
<div class="t q r" style="left:1171px;top:531.0px;">5384</div>
<div class="t ra q g" style="right:99.40000000000009px;top:531.0px;">2</div>
<div class="t ra q g" style="right:2.2000000000000455px;top:531.0px;">0</div>
<div class="t q g" style="left:1109.5px;top:555.0px;">15:29:54</div>
<div class="t q r" style="left:1171px;top:555.0px;">5380</div>
<div class="t ra q c" style="right:99.40000000000009px;top:555.0px;">10</div>
<div class="t ra q c" style="right:2.2000000000000455px;top:555.0px;">0</div>
<div class="t q g" style="left:1109.5px;top:579.0px;">15:29:58</div>
<div class="t q r" style="left:1171px;top:579.0px;">5380</div>
<div class="t ra q g" style="right:99.40000000000009px;top:579.0px;">1</div>
<div class="t ra q g" style="right:2.2000000000000455px;top:579.0px;">0</div>
<div class="t r" style="left:1115.5px;top:595.5px;font-size:15px;font-weight:bold">细</div>
<div class="t g" style="left:1147px;top:596px;font-size:14px">图</div>
<div class="t g" style="left:1177px;top:596px;font-size:14px">盘</div>
<div class="t g" style="left:1207px;top:596px;font-size:14px">成</div>
<div class="t g" style="left:1131.8px;top:621.4px;font-size:14.5px;letter-spacing:-0.35px">分笔:DS2508 1613</div>
<div class="t g" style="left:1299px;top:621.4px;font-size:14.5px;letter-spacing:-0.4px">16:28:02</div>
</div></body></html>
